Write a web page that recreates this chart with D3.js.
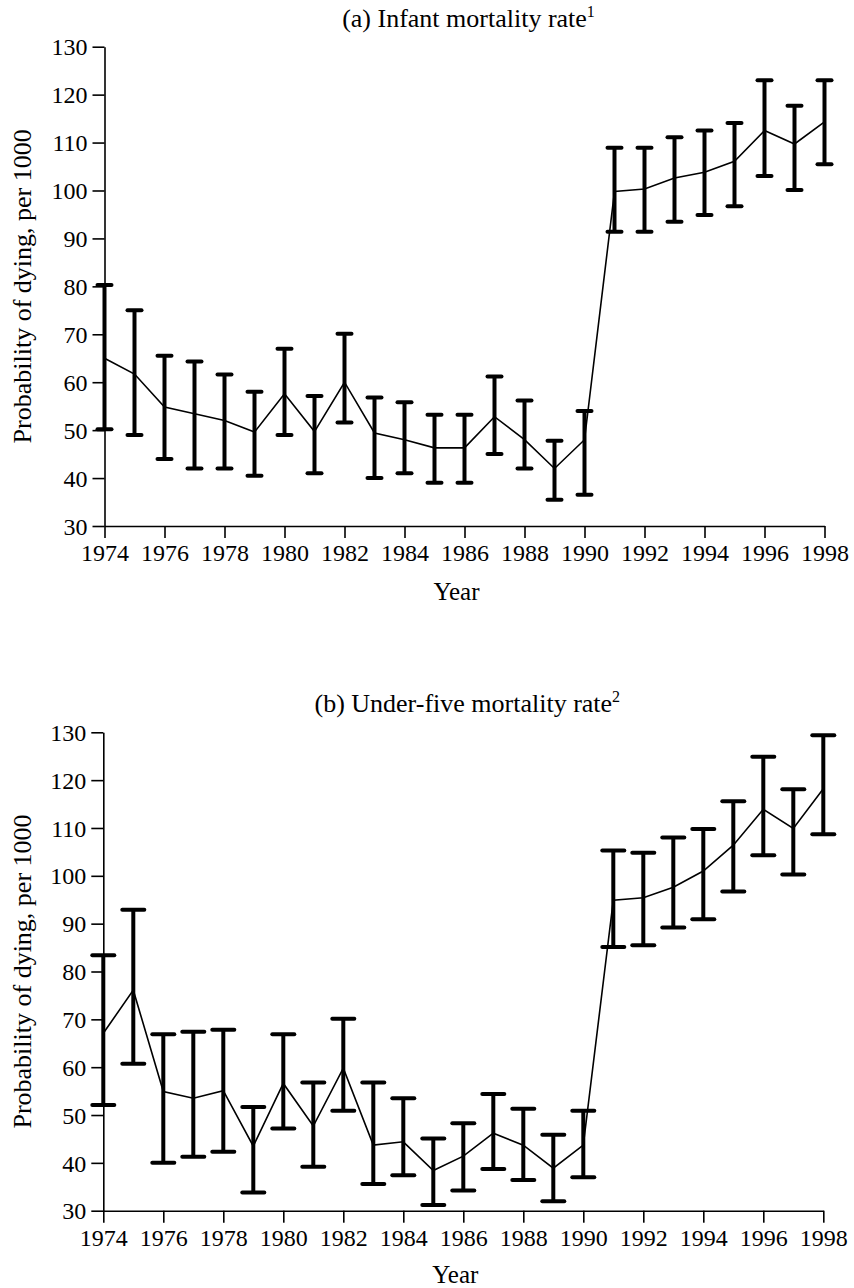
<!DOCTYPE html>
<html>
<head>
<meta charset="utf-8">
<script src="https://cdn.jsdelivr.net/npm/d3@7"></script>
<style>
    body { margin: 0; background: white; }
    svg { display: block; }
    svg text { font-family: "Liberation Serif", "DejaVu Serif", serif; font-size: 24px; fill: #000; }
</style>
</head>
<body>
<svg id="chart"></svg>
<script>
const years = d3.range(1974, 1999);
const yTicks = [30, 40, 50, 60, 70, 80, 90, 100, 110, 120, 130];
const xTicks = [1974, 1976, 1978, 1980, 1982, 1984, 1986, 1988, 1990, 1992, 1994, 1996, 1998];

// (a) infant mortality
const imrMean = [65, 61.7, 54.8, 53.4, 52, 49.6, 57.6, 49.7, 60, 49.4, 48, 46.3, 46.3, 52.8, 48, 42, 48,
    99.8, 100.3, 102.6, 103.8, 106.1, 112.5, 109.7, 114.3];
const imrLow = [50.2, 49, 44, 42, 42, 40.5, 49, 41, 51.6, 40, 41, 39, 39, 45, 42, 35.5, 36.5,
    91.4, 91.4, 93.5, 94.9, 96.7, 103, 100.1, 105.5];
const imrHigh = [80.3, 75, 65.5, 64.3, 61.6, 58, 67, 57.1, 70.1, 56.8, 55.8, 53.2, 53.2, 61.2, 56.2, 47.8, 54,
    108.9, 108.9, 111.1, 112.5, 114.1, 123, 117.7, 123];

// (b) under-five mortality
const u5Mean = [67.1, 76.1, 54.9, 53.5, 55.1, 43.5, 56.6, 47.7, 59.8, 43.7, 44.4, 38.4, 41.4, 46.2, 43.7, 38.9, 43.7,
    94.9, 95.4, 97.6, 101, 106.4, 113.9, 109.9, 118.2];
const u5Low = [52.1, 60.7, 40, 41.3, 42.3, 33.8, 47.2, 39.2, 50.9, 35.6, 37.4, 31.2, 34.2, 38.7, 36.4, 32, 37,
    85.1, 85.5, 89.2, 90.9, 96.7, 104.3, 100.3, 108.7];
const u5High = [83.4, 92.9, 66.9, 67.4, 67.8, 51.7, 66.9, 56.8, 70.1, 56.8, 53.5, 45.1, 48.3, 54.4, 51.3, 45.9, 50.9,
    105.3, 104.8, 108, 109.8, 115.6, 124.9, 118.1, 129.4];

const svg = d3.select('#chart')
    .attr('width', 854)
    .attr('height', 1288);

function drawPanel(opts) {
    const { title, sup, mean, low, high, left, top, bottom, capWidth, yearGap } = opts;

    const x = d3.scaleLinear().domain([1974, 1998]).range([left, left + 720]);
    const y = d3.scaleLinear().domain([30, 130]).range([bottom, top]);

    const rows = years.map((yr, i) => ({ year: yr, mean: mean[i], low: low[i], high: high[i] }));

    const g = svg.append('g');

    const yAxis = g.append('g')
        .attr('transform', `translate(${left},0)`)
        .call(d3.axisLeft(y).tickValues(yTicks).tickSize(12).tickSizeOuter(0).tickPadding(5));

    const xAxis = g.append('g')
        .attr('transform', `translate(0,${bottom})`)
        .call(d3.axisBottom(x).tickValues(xTicks).tickFormat(d3.format('d')).tickSize(12).tickSizeOuter(0).tickPadding(6));

    [yAxis, xAxis].forEach(ax => {
        ax.attr('font-family', null).attr('font-size', null);
        ax.selectAll('path, line').attr('stroke', '#000').attr('stroke-width', 1.6);
        ax.selectAll('text').attr('fill', null);
    });
    yAxis.selectAll('text').attr('dy', '0.34em');
    xAxis.selectAll('text').attr('dy', '0.72em');

    // error bars
    const bars = g.append('g').selectAll('g')
        .data(rows)
        .enter()
        .append('g')
        .attr('stroke', '#000')
        .attr('stroke-width', 4)
        .attr('stroke-linecap', 'round');

    bars.append('line')
        .attr('x1', d => x(d.year)).attr('x2', d => x(d.year))
        .attr('y1', d => y(d.low)).attr('y2', d => y(d.high))
        .attr('stroke-linecap', 'butt');

    bars.append('line')
        .attr('x1', d => x(d.year) - capWidth / 2).attr('x2', d => x(d.year) + capWidth / 2)
        .attr('y1', d => y(d.high)).attr('y2', d => y(d.high));

    bars.append('line')
        .attr('x1', d => x(d.year) - capWidth / 2).attr('x2', d => x(d.year) + capWidth / 2)
        .attr('y1', d => y(d.low)).attr('y2', d => y(d.low));

    // mean line
    const line = d3.line().x(d => x(d.year)).y(d => y(d.mean));
    g.append('path')
        .datum(rows)
        .attr('d', line)
        .attr('fill', 'none')
        .attr('stroke', '#000')
        .attr('stroke-width', 1.6);

    const cx = (x.range()[0] + x.range()[1]) / 2;

    const t = g.append('text')
        .attr('x', cx + 4)
        .attr('y', top - 20)
        .attr('text-anchor', 'middle')
        .style('font-size', '26px')
        .text(title);
    t.append('tspan')
        .attr('dy', -10)
        .style('font-size', '16px')
        .text(sup);

    g.append('text')
        .attr('x', cx - 8)
        .attr('y', bottom + yearGap)
        .attr('text-anchor', 'middle')
        .style('font-size', '25px')
        .text('Year');

    g.append('text')
        .attr('transform', `translate(31,${(top + bottom) / 2}) rotate(-90)`)
        .attr('text-anchor', 'middle')
        .style('font-size', '26px')
        .text('Probability of dying, per 1000');
}

drawPanel({
    title: '(a) Infant mortality rate', sup: '1',
    mean: imrMean, low: imrLow, high: imrHigh,
    left: 104.5, top: 46.7, bottom: 526, capWidth: 14, yearGap: 74
});

drawPanel({
    title: '(b) Under-five mortality rate', sup: '2',
    mean: u5Mean, low: u5Low, high: u5High,
    left: 103.3, top: 732.3, bottom: 1210.7, capWidth: 22, yearGap: 72
});
</script>
</body>
</html>
